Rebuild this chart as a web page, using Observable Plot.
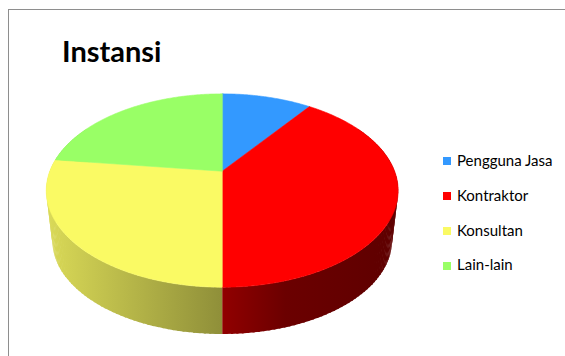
<!DOCTYPE html>
<html>
<head>
<meta charset="utf-8">
<script src="https://cdn.jsdelivr.net/npm/d3@7"></script>
<script src="https://cdn.jsdelivr.net/npm/@observablehq/plot@0.6"></script>
<style>
  html, body { margin: 0; padding: 0; background: #fff; }
  #wrap { position: relative; width: 565px; height: 356px; overflow: hidden; font-family: Lato, "Open Sans", sans-serif; }
  #frame { position: absolute; left: 8px; top: 9px; width: 600px; height: 400px; border-left: 1px solid #8e8e8e; border-top: 1px solid #8e8e8e; }
  #chart { position: absolute; left: 0; top: 0; }
  #title { position: absolute; left: 62px; top: 36px; font-size: 29px; line-height: 29px; font-weight: 700; color: #000; white-space: nowrap; }
  #legend { position: absolute; left: 443px; top: 150px; }
  .item { position: relative; height: 34.8px; white-space: nowrap; }
  .sw { position: absolute; left: 0; top: 7.3px; width: 8px; height: 8px; }
  .lab { position: absolute; left: 14px; top: 0; font-size: 15px; line-height: 20px; color: #000; }
</style>
</head>
<body>
<div id="wrap">
  <div id="frame"></div>
  <div id="chart"></div>
  <div id="title">Instansi</div>
  <div id="legend"></div>
</div>
<script>
// ---- data ----
const categories = ["Pengguna Jasa", "Kontraktor", "Konsultan", "Lain-lain"];
const values = [10, 40, 27, 23];
const colors = ["#3399FF", "#FF0000", "#FAFA64", "#99FF66"];

// ---- geometry of the 3D pie (layout) ----
const W = 565, H = 356;
const cxPx = 221.7, cyPx = 170.7;   // apex of the pie on screen
const T = 172.4, S = 92.8, k = 0.2; // perspective ellipse
const f = 0.965, dropPx = 50.9;     // bottom rim
const sideFrom = 60, sideTo = 300;  // angular range of drawn side wall

const total = d3.sum(values);
let acc = 0;
const slices = categories.map((c, i) => {
  const s = acc / total * 360;
  acc += values[i];
  const e = acc / total * 360;
  return {c, i, s, e, color: colors[i]};
});

function rim(deg, level) {
  const t = deg * Math.PI / 180;
  const a = Math.sin(t), b = Math.cos(t), w = 1 + k * b;
  if (level === 0) return [a / w, (S / T) * b / w];
  return [f * a / w, f * (S / T) * b / w - dropPx / T];
}
function range(s, e, step) {
  const n = Math.max(1, Math.ceil((e - s) / step));
  return d3.range(n + 1).map(j => s + (e - s) * j / n);
}

const marks = [];
// side walls as overlapping quad strips
slices.forEach(sl => {
  const s = Math.max(sl.s, sideFrom), e = Math.min(sl.e, sideTo);
  if (e <= s) return;
  const angs = range(s, e, 1.5);
  const quads = [];
  for (let j = 0; j < angs.length - 1; j++) {
    const a0 = angs[j], a1 = Math.min(e, angs[j + 1] + 0.6);
    const p = [rim(a0, 0), rim(a1, 0), rim(a1, 1), rim(a0, 1)];
    p.forEach(([x, y]) => quads.push({q: j, x, y}));
  }
  marks.push(Plot.line(quads, {x: "x", y: "y", z: "q", curve: "linear-closed",
    fill: `url(#side${sl.i})`, stroke: "none"}));
});
// top faces
slices.forEach(sl => {
  const pts = [{x: 0, y: 0}].concat(range(sl.s, sl.e, 0.5).map(d => {
    const [x, y] = rim(d, 0); return {x, y};
  }));
  marks.push(Plot.line(pts, {x: "x", y: "y", curve: "linear-closed",
    fill: sl.color, stroke: sl.color, strokeWidth: 0.6}));
});

const fig = Plot.plot({
  width: W, height: H,
  margin: 0,
  x: {domain: [(0 - cxPx) / T, (W - cxPx) / T], axis: null},
  y: {domain: [(cyPx - H) / T, cyPx / T], axis: null},
  style: {background: "transparent", overflow: "visible"},
  marks
});

// gradients for the side wall (light from the left)
const sx = fig.scale("x");
const ext = 1 / Math.sqrt(1 - k * k);
const x1 = sx.apply(-ext), x2 = sx.apply(ext);
const svg = d3.select(fig);
const defs = svg.insert("defs", ":first-child");
const shade = [[0, 0.87], [0.5, 0.57], [0.68, 0.42], [1, 0.37]];
slices.forEach(sl => {
  const g = defs.append("linearGradient").attr("id", `side${sl.i}`)
    .attr("gradientUnits", "userSpaceOnUse")
    .attr("x1", x1).attr("x2", x2).attr("y1", 0).attr("y2", 0);
  const base = d3.rgb(sl.color);
  shade.forEach(([o, m]) => {
    g.append("stop").attr("offset", o)
      .attr("stop-color", d3.rgb(base.r * m, base.g * m, base.b * m).formatHex());
  });
});
document.getElementById("chart").appendChild(fig);

// legend
const leg = d3.select("#legend");
categories.forEach((c, i) => {
  const it = leg.append("div").attr("class", "item");
  it.append("div").attr("class", "sw").style("background", colors[i]);
  it.append("div").attr("class", "lab").text(c);
});
</script>
</body>
</html>
